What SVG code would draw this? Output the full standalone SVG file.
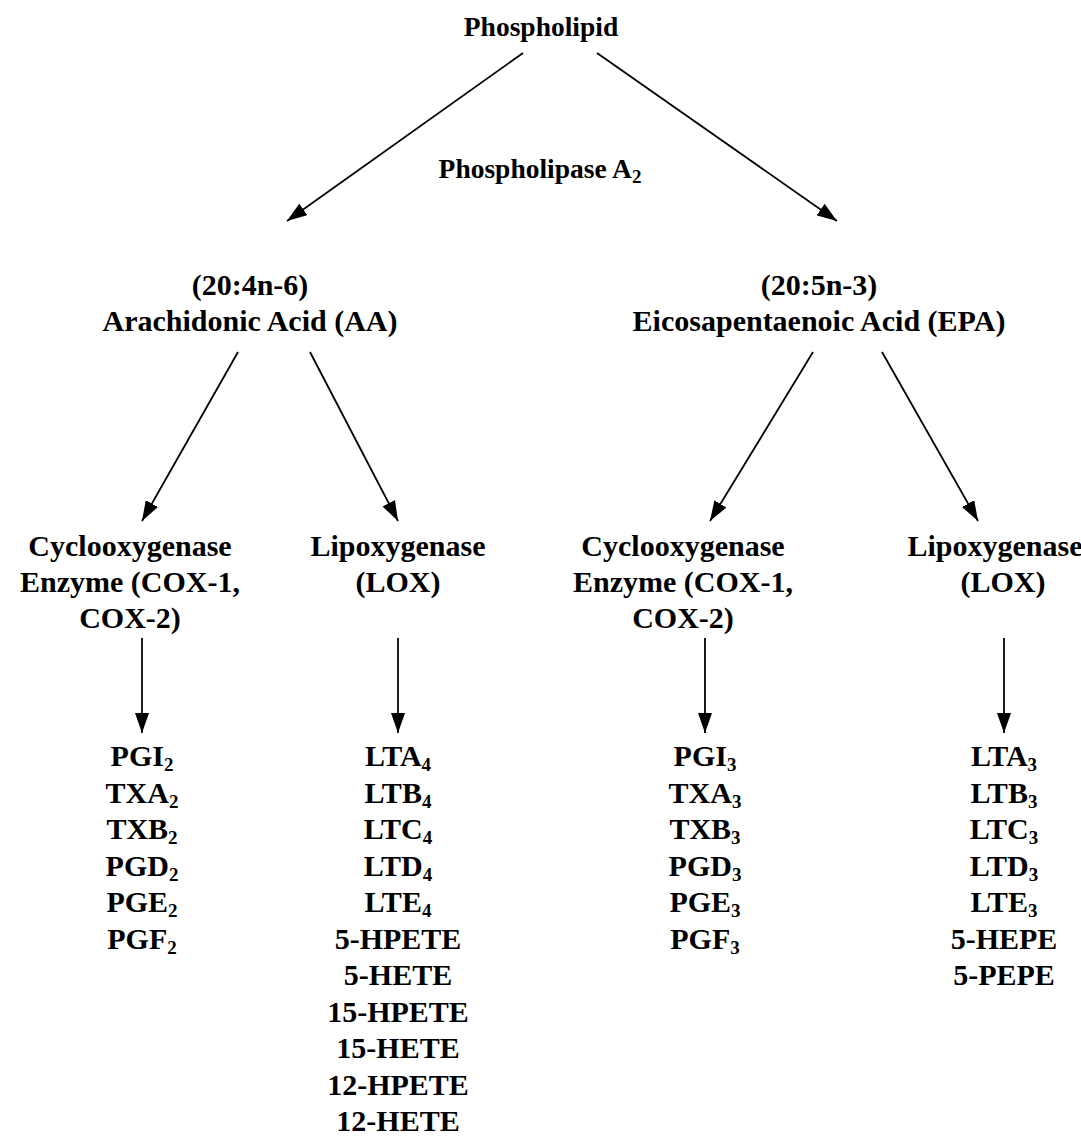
<svg xmlns="http://www.w3.org/2000/svg" width="1081" height="1143" viewBox="0 0 1081 1143">
<defs>
<marker id="ah" markerWidth="20" markerHeight="14" refX="20" refY="7" orient="auto" markerUnits="userSpaceOnUse">
<path d="M0,0 L20,7 L0,14 z" fill="#000"/>
</marker>
<style>
text{font-family:"Liberation Serif","Times New Roman",serif;font-weight:bold;font-size:30px;fill:#000;text-anchor:middle}
.top{font-size:27.5px}
.sub{font-size:19px}
.c{stroke:#000;stroke-width:1.8;fill:none;marker-end:url(#ah)}
</style>
</defs>
<rect width="1081" height="1143" fill="#fff"/>
<g id="connectors">
<line class="c" x1="523" y1="53" x2="287" y2="221"/>
<line class="c" x1="597" y1="53" x2="837" y2="221"/>
<line class="c" x1="238" y1="352" x2="142" y2="521"/>
<line class="c" x1="310" y1="352" x2="398" y2="521"/>
<line class="c" x1="813" y1="352" x2="710" y2="521"/>
<line class="c" x1="882" y1="352" x2="978" y2="521"/>
<line class="c" x1="142" y1="638" x2="142" y2="733"/>
<line class="c" x1="398" y1="638" x2="398" y2="733"/>
<line class="c" x1="705" y1="638" x2="705" y2="733"/>
<line class="c" x1="1004" y1="638" x2="1004" y2="733"/>
</g>
<g id="phospholipid"><text class="top" x="541" y="36">Phospholipid</text></g>
<g id="pla2"><text class="top" x="540" y="178">Phospholipase A<tspan class="sub" font-size="18" dy="5">2</tspan></text></g>
<g id="aa"><text x="250" y="295">(20:4n-6)</text><text x="250" y="331">Arachidonic Acid (AA)</text></g>
<g id="epa"><text x="819" y="295">(20:5n-3)</text><text x="819" y="331">Eicosapentaenoic Acid (EPA)</text></g>
<g id="cox-aa"><text x="130" y="556">Cyclooxygenase</text><text x="130" y="592">Enzyme (COX-1,</text><text x="130" y="628">COX-2)</text></g>
<g id="lox-aa"><text x="398" y="556">Lipoxygenase</text><text x="398" y="592">(LOX)</text></g>
<g id="cox-epa"><text x="683" y="556">Cyclooxygenase</text><text x="683" y="592">Enzyme (COX-1,</text><text x="683" y="628">COX-2)</text></g>
<g id="lox-epa"><text x="995" y="556">Lipoxygenase</text><text x="1003" y="592">(LOX)</text></g>
<g id="prod-cox-aa">
<text x="142" y="766">PGI<tspan class="sub" dy="5">2</tspan></text>
<text x="142" y="802.5">TXA<tspan class="sub" dy="5">2</tspan></text>
<text x="142" y="839">TXB<tspan class="sub" dy="5">2</tspan></text>
<text x="142" y="875.5">PGD<tspan class="sub" dy="5">2</tspan></text>
<text x="142" y="912">PGE<tspan class="sub" dy="5">2</tspan></text>
<text x="142" y="948.5">PGF<tspan class="sub" dy="5">2</tspan></text>
</g>
<g id="prod-lox-aa">
<text x="398" y="766">LTA<tspan class="sub" dy="5">4</tspan></text>
<text x="398" y="802.5">LTB<tspan class="sub" dy="5">4</tspan></text>
<text x="398" y="839">LTC<tspan class="sub" dy="5">4</tspan></text>
<text x="398" y="875.5">LTD<tspan class="sub" dy="5">4</tspan></text>
<text x="398" y="912">LTE<tspan class="sub" dy="5">4</tspan></text>
<text x="398" y="948.5">5-HPETE</text>
<text x="398" y="985">5-HETE</text>
<text x="398" y="1021.5">15-HPETE</text>
<text x="398" y="1058">15-HETE</text>
<text x="398" y="1094.5">12-HPETE</text>
<text x="398" y="1131">12-HETE</text>
</g>
<g id="prod-cox-epa">
<text x="705" y="766">PGI<tspan class="sub" dy="5">3</tspan></text>
<text x="705" y="802.5">TXA<tspan class="sub" dy="5">3</tspan></text>
<text x="705" y="839">TXB<tspan class="sub" dy="5">3</tspan></text>
<text x="705" y="875.5">PGD<tspan class="sub" dy="5">3</tspan></text>
<text x="705" y="912">PGE<tspan class="sub" dy="5">3</tspan></text>
<text x="705" y="948.5">PGF<tspan class="sub" dy="5">3</tspan></text>
</g>
<g id="prod-lox-epa">
<text x="1004" y="766">LTA<tspan class="sub" dy="5">3</tspan></text>
<text x="1004" y="802.5">LTB<tspan class="sub" dy="5">3</tspan></text>
<text x="1004" y="839">LTC<tspan class="sub" dy="5">3</tspan></text>
<text x="1004" y="875.5">LTD<tspan class="sub" dy="5">3</tspan></text>
<text x="1004" y="912">LTE<tspan class="sub" dy="5">3</tspan></text>
<text x="1004" y="948.5">5-HEPE</text>
<text x="1004" y="985">5-PEPE</text>
</g>
</svg>
